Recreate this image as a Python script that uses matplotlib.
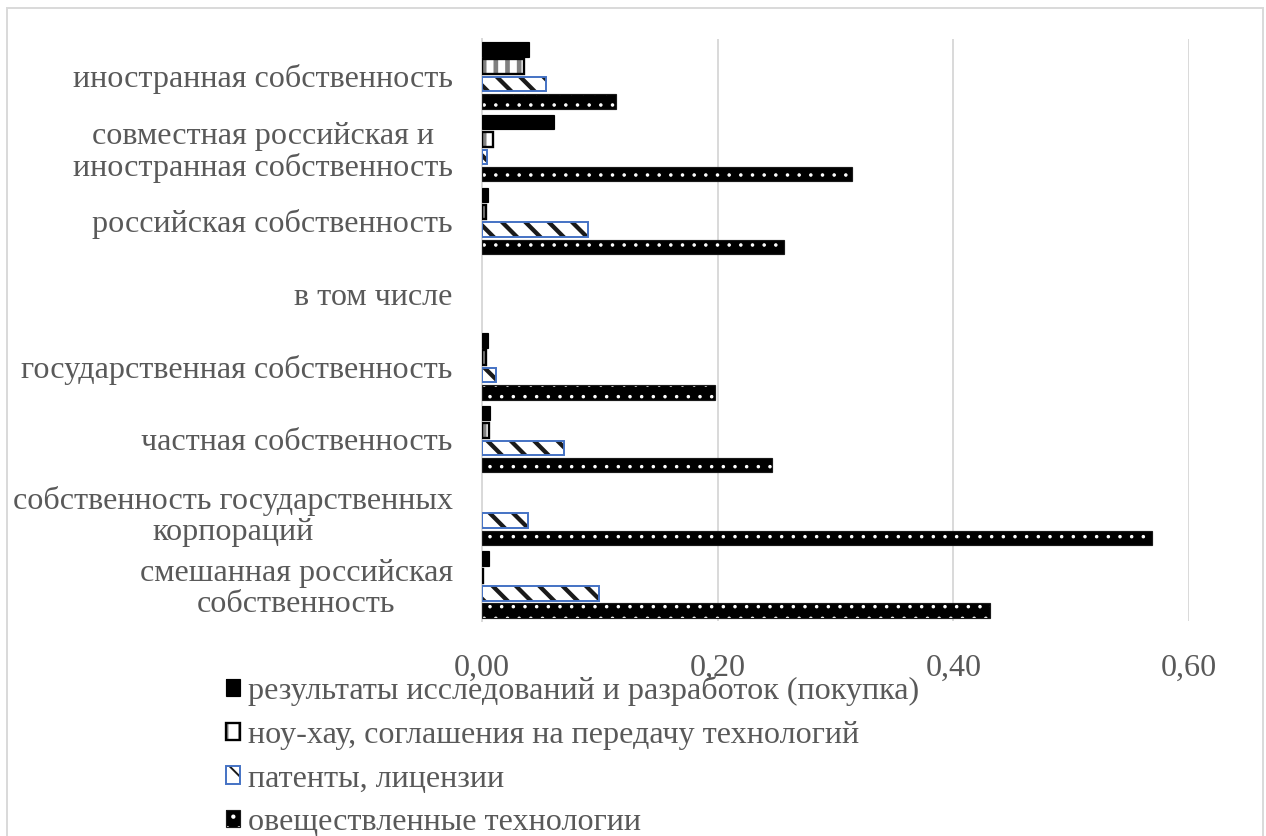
import numpy as np
import matplotlib
matplotlib.use('Agg')
import matplotlib.pyplot as plt
import matplotlib.patches as mpatches
import matplotlib.ticker as mticker

plt.rcParams['font.family'] = ['Liberation Serif', 'DejaVu Serif']

# categories, top to bottom
categories = ['иностранная собственность',
              'совместная российская и\nиностранная собственность',
              'российская собственность',
              'в том числе',
              'государственная собственность',
              'частная собственность',
              'собственность государственных\nкорпораций',
              'смешанная российская\nсобственность']

series_names = ['результаты исследований и разработок (покупка)',
                'ноу-хау, соглашения на передачу технологий',
                'патенты, лицензии',
                'овеществленные технологии']

rnd = [0.040, 0.061, 0.005, np.nan, 0.005, 0.007, np.nan, 0.006]
knowhow = [0.036, 0.009, 0.003, np.nan, 0.003, 0.006, np.nan, 0.001]
patents = [0.054, 0.004, 0.090, np.nan, 0.012, 0.070, 0.039, 0.099]
embodied = [0.114, 0.314, 0.256, np.nan, 0.198, 0.246, 0.569, 0.431]

xticks = [0.0, 0.2, 0.4, 0.6]

txt = '#595959'
grid = '#d9d9d9'
FS = 16.5
DPI = 140

# face, hatch, hatch colour, hatch width, outline, outline width
styles = [
    ('black', None, 'black', 0.5, 'black', 0.6),
    ('white', '||', '#808080', 2.4, 'black', 1.2),
    ('white', '\\\\', '#1a1a1a', 2.2, '#4472c4', 1.0),
    ('black', '..', 'white', 0.6, '#1a1a1a', 0.6),
]

fig = plt.figure(figsize=(1266 / DPI, 836 / DPI), dpi=DPI)
ax = fig.add_axes([482 / 1266, 1 - 621 / 836, (1189 - 482) / 1266, (621 - 39) / 836])

y = np.arange(len(categories))
bar_h = 0.2
offsets = [-0.357, -0.119, 0.119, 0.357]


def set_hlw(p, lw):
    if hasattr(p, 'set_hatch_linewidth'):
        p.set_hatch_linewidth(lw)


handles = []
for vals, off, st in zip([rnd, knowhow, patents, embodied], offsets, styles):
    face, hatch, hcol, hlw, edge, elw = st
    with plt.rc_context({'hatch.linewidth': hlw}):
        fill = ax.barh(y + off, vals, height=bar_h, color=face,
                       edgecolor=hcol, linewidth=0, hatch=hatch, zorder=2)
        for p in fill:
            set_hlw(p, hlw)
        ax.barh(y + off, vals, height=bar_h, fill=False,
                edgecolor=edge, linewidth=elw, zorder=3)
        hp = mpatches.Patch(facecolor=face, edgecolor=hcol, linewidth=0, hatch=hatch)
        set_hlw(hp, hlw)
    op = mpatches.Patch(fill=False, edgecolor=edge, linewidth=elw)
    handles.append((hp, op))

ax.set_ylim(len(categories) - 0.5, -0.5)
ax.set_yticks(y)
ax.set_yticklabels(categories, multialignment='center', linespacing=1.08)
ax.set_xlim(0, 0.6)
ax.set_xticks(xticks)
ax.xaxis.set_major_formatter(mticker.FuncFormatter(lambda v, _: f'{v:.2f}'.replace('.', ',')))
ax.tick_params(axis='both', length=0, labelcolor=txt, labelsize=FS)
ax.tick_params(axis='y', pad=15)
ax.tick_params(axis='x', pad=17)
ax.grid(axis='x', color=grid, linewidth=1.0, zorder=0)
ax.set_axisbelow(True)
for s in ['top', 'right', 'bottom']:
    ax.spines[s].set_visible(False)
ax.spines['left'].set_color(grid)
ax.spines['left'].set_linewidth(1.0)

leg = fig.legend(handles, series_names, loc='upper left',
                 bbox_to_anchor=(226 / 1266, 1 - 676 / 836),
                 frameon=False, fontsize=FS, handlelength=0.45, handleheight=0.45,
                 handletextpad=0.25, labelspacing=0.46, borderpad=0, borderaxespad=0)
for t in leg.get_texts():
    t.set_color(txt)

fig.add_artist(mpatches.Rectangle((7 / 1266, -0.05), (1263 - 7) / 1266, 1.05 - 8 / 836,
                                  transform=fig.transFigure, fill=False,
                                  edgecolor=grid, linewidth=1.0))

fig.savefig('out.png', dpi=DPI, facecolor='white')
